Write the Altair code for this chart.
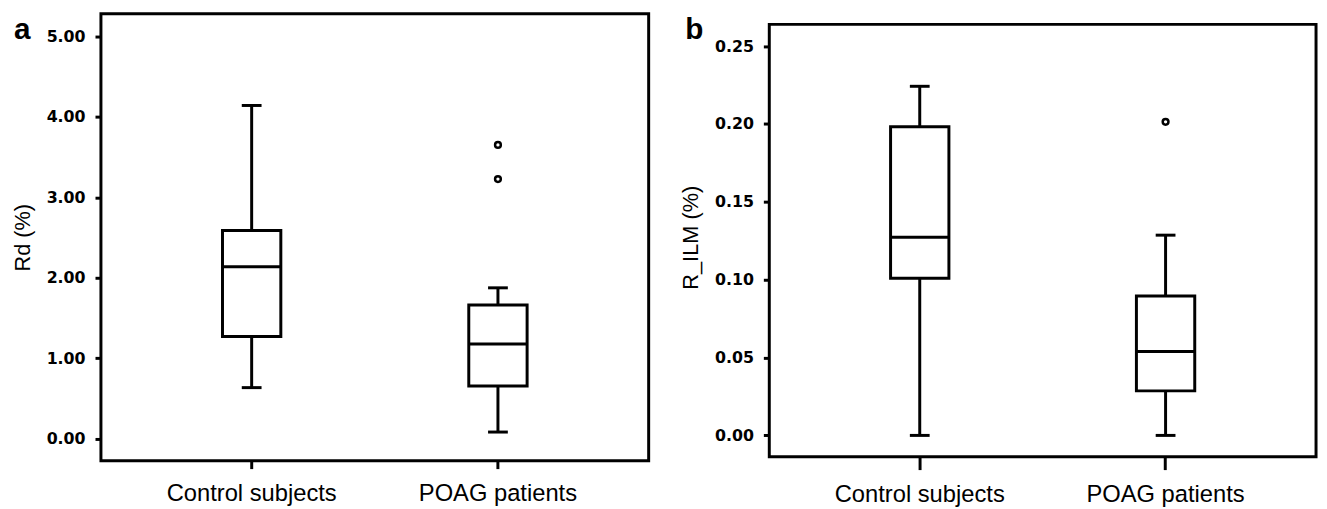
import altair as alt
import pandas as pd

categories = ["Control subjects", "POAG patients"]

# Panel a: Rd (%)
rd_low = [0.634, 0.082]
rd_q1 = [1.268, 0.654]
rd_median = [2.136, 1.175]
rd_q3 = [2.587, 1.661]
rd_high = [4.14, 1.874]
rd_outlier_groups = ["POAG patients", "POAG patients"]
rd_outlier_values = [3.65, 3.225]
rd_ticks = [0, 1, 2, 3, 4, 5]

# Panel b: R_ILM (%)
ilm_low = [0.0, 0.0]
ilm_q1 = [0.1009, 0.0286]
ilm_median = [0.1273, 0.0539]
ilm_q3 = [0.1982, 0.0895]
ilm_high = [0.2242, 0.1286]
ilm_outlier_groups = ["POAG patients"]
ilm_outlier_values = [0.2014]
ilm_ticks = [0.0, 0.05, 0.10, 0.15, 0.20, 0.25]

# axis extents (data units)
rd_domain = [-0.274, 5.279]
ilm_domain = [-0.01624, 0.27075]
ilm_frame = [-0.0137, 0.26396]

LINE = 3
SANS = "Liberation Sans"
TICKFONT = "DejaVu Sans"
W_A, W_B, H = 554, 553, 452


def panel(label, ytitle, low, q1, med, q3, high, og, ov, ydomain, yvalues,
          width, xtick, xoffset, frame=None):
    stats = pd.DataFrame({"group": categories, "low": low, "q1": q1,
                          "median": med, "q3": q3, "high": high})
    caps = pd.DataFrame({"group": categories * 2, "value": list(low) + list(high)})
    outl = pd.DataFrame({"group": og, "value": ov})

    xenc = alt.X("group:N", sort=categories, title=None,
                 scale=alt.Scale(domain=categories, paddingInner=0, paddingOuter=0.112),
                 axis=alt.Axis(labelAngle=0, labelFont=SANS, labelFontSize=24,
                               labelColor="black", labelFontWeight="normal",
                               tickSize=xtick, tickWidth=LINE, tickColor="black",
                               labelPadding=13, domain=False, offset=xoffset))
    yscale = alt.Scale(domain=ydomain, nice=False, zero=False)
    yaxis = alt.Axis(values=yvalues, format=".2f", title=ytitle, grid=False,
                     domain=False, tickSize=6, tickWidth=LINE, tickColor="black",
                     labelFont=TICKFONT, labelFontSize=16, labelFontWeight="bold",
                     labelColor="black", labelPadding=10,
                     titleFont=SANS, titleFontSize=22, titleFontWeight="normal",
                     titleColor="black", titlePadding=12)

    def yenc(field):
        return alt.Y(field, scale=yscale, axis=yaxis, title=ytitle)

    base = alt.Chart(stats)
    layers = []
    whisk = base.mark_rule(color="black", strokeWidth=LINE, opacity=1).encode(
        x=xenc, y=yenc("low:Q"), y2="high:Q")
    layers.append(whisk)
    box = base.mark_bar(size=59, fill="white", stroke="black", strokeWidth=LINE,
                        opacity=1).encode(x=xenc, y=yenc("q1:Q"), y2="q3:Q")
    layers.append(box)
    layers.append(base.mark_tick(size=60, thickness=LINE, color="black", opacity=1).encode(
        x=xenc, y=yenc("median:Q")))
    layers.append(alt.Chart(caps).mark_tick(size=20, thickness=LINE, color="black",
                                            opacity=1).encode(x=xenc, y=yenc("value:Q")))
    layers.append(alt.Chart(outl).mark_point(shape="circle", filled=False, size=34,
                                             color="black", strokeWidth=2.5, opacity=1).encode(
        x=xenc, y=yenc("value:Q")))
    if frame is not None:
        fdf = pd.DataFrame({"bottom": [frame[0]], "top": [frame[1]]})
        layers.append(alt.Chart(fdf).mark_rect(fill="transparent", stroke="black",
                                               strokeWidth=LINE).encode(
            x=alt.value(0), x2=alt.value("width"), y=yenc("top:Q"), y2="bottom:Q"))
    ldf = pd.DataFrame({"label": [label]})
    layers.append(alt.Chart(ldf).mark_text(font=SANS, fontSize=30, fontWeight="bold",
                                           color="black", align="left",
                                           baseline="alphabetic").encode(
        text="label:N", x=alt.value(-88 if label == "a" else -85), y=alt.value(25)))

    ch = alt.layer(*layers).properties(width=width, height=H)
    if frame is not None:
        ch = ch.properties(view=alt.ViewBackground(stroke="transparent", strokeWidth=LINE))
    return ch


pa = panel("a", "Rd (%)", rd_low, rd_q1, rd_median, rd_q3, rd_high,
           rd_outlier_groups, rd_outlier_values, rd_domain, rd_ticks,
           W_A, 8, 0)
pb = panel("b", "R_ILM (%)", ilm_low, ilm_q1, ilm_median, ilm_q3, ilm_high,
           ilm_outlier_groups, ilm_outlier_values, ilm_domain, ilm_ticks,
           W_B, 13, -4, frame=ilm_frame)

chart = alt.hconcat(pa, pb, spacing=28).properties(
    padding={"left": 2, "top": 1, "right": 0, "bottom": 0},
    background="white",
).configure_view(stroke="black", strokeWidth=LINE)

chart.save("out.html", embed_options={"renderer": "svg", "actions": False})
